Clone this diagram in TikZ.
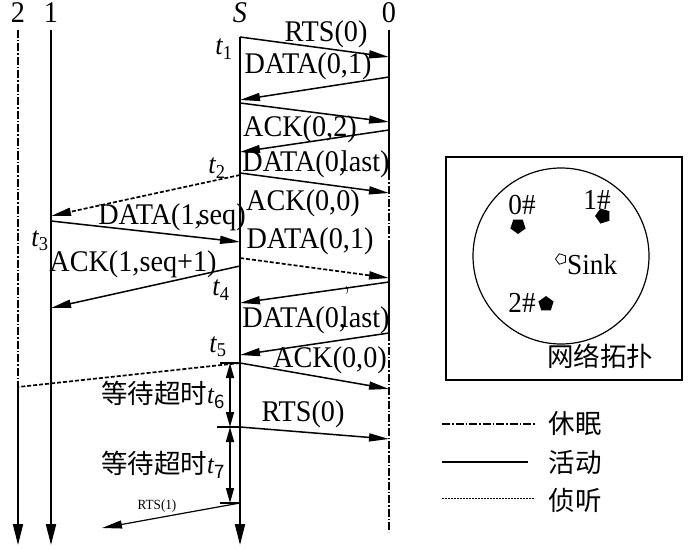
\documentclass[tikz,border=0pt]{standalone}
\usepackage{fontspec}
\setmainfont[FakeStretch=0.94]{Liberation Serif}
\newfontfamily\cjk{Noto Sans CJK SC}
\usetikzlibrary{arrows.meta}
\usetikzlibrary{shapes.geometric}

\newcommand{\tsub}[1]{{\rmfamily\itshape t}\textsubscript{#1}}

\begin{document}
\begin{tikzpicture}[x=1pt, y=-1pt,
  lab/.style={font=\fontsize{30}{32}\selectfont, inner sep=0pt},
  tlab/.style={font=\fontsize{28}{30}\selectfont, inner sep=0pt},
  cn/.style={font=\cjk\fontsize{26.5}{28}\selectfont, inner sep=0pt},
  life/.style={line width=2pt, -{Triangle[length=21pt,width=10pt]}},
  msg/.style={line width=1.5pt, -{Triangle[length=20pt,width=8pt]}},
  listen/.style={msg, line width=1.7pt, dash pattern=on 4pt off 2pt},
  sleep/.style={line width=1.3pt, dash pattern=on 8pt off 2pt on 1.5pt off 2pt},
  waitarr/.style={line width=1.5pt, {Triangle[length=15pt,width=8pt]}-{Triangle[length=15pt,width=8pt]}},
  nodemark/.style={regular polygon, regular polygon sides=5, minimum size=16pt, inner sep=0pt, fill=black}]

\useasboundingbox (0,0) rectangle (700,548);

% node names on top
\node[lab] (n2) at (18,13) {2};
\node[lab] (n1) at (51,13) {1};
\node[lab] (nS) at (240,13) {\textit{S}};
\node[lab] (n0) at (389,13) {0};

% life lines
\draw[sleep] (n2 |- 0,30) -- (n2 |- 0,387);
\draw[life] (n2 |- 0,387) -- (n2 |- 0,545);
\draw[life] (n1 |- 0,30) -- (n1 |- 0,545);
\draw[life] (nS |- 0,37) -- (nS |- 0,545);
\draw[line width=2pt] (n0 |- 0,30) -- (n0 |- 0,172);
\draw[sleep] (n0 |- 0,172) -- (n0 |- 0,245);
\draw[line width=2pt] (n0 |- 0,245) -- (n0 |- 0,333);
\draw[sleep] (n0 |- 0,333) -- (n0 |- 0,532);

% messages
\draw[msg] (nS |- 0,37) -- (n0 |- 0,57);
\draw[msg] (n0 |- 0,77) -- (nS |- 0,100);
\draw[msg] (nS |- 0,103) -- (n0 |- 0,122);
\draw[msg] (n0 |- 0,130) -- (nS |- 0,152);
\draw[msg] (nS |- 0,173) -- (n0 |- 0,193);
\draw[listen] (nS |- 0,175) -- (n1 |- 0,216);
\draw[msg] (n1 |- 0,221) -- (nS |- 0,242);
\draw[listen] (nS |- 0,258) -- (n0 |- 0,278);
\draw[msg] (nS |- 0,266) -- (n1 |- 0,308);
\draw[msg] (n0 |- 0,282) -- (nS |- 0,303);
\draw[msg] (n0 |- 0,333) -- (nS |- 0,355);
\draw[msg] (nS |- 0,363) -- (n0 |- 0,389);
\draw[line width=1.7pt, dash pattern=on 4pt off 2pt] (nS |- 0,363) -- (n2 |- 0,387);
\draw[msg] (nS |- 0,427) -- (n0 |- 0,439);
\coordinate (r1) at (102,528);
\draw[msg, line width=1.2pt] (nS |- 0,503) -- (r1);

% waiting times
\coordinate (w0) at (230,363);
\coordinate (w1) at (230,427);
\coordinate (w2) at (230,503);
\draw[line width=1.5pt] (220,363) -- (nS |- w0);
\draw[line width=1.5pt] (217,427) -- (nS |- w1);
\draw[line width=1.5pt] (220,503) -- (nS |- w2);
\draw[waitarr] (w0) -- (w1);
\draw[waitarr] (w1) -- (w2);

% labels
\node[lab] (l1) at (326,34) {RTS(0)};
\node[lab] (l2) at (308,66) {DATA(0,1)};
\node[lab] (l3) at (300,129) {ACK(0,2)};
\node[lab] (l4) at (316,164) {DATA(0,\kern-5pt last)};
\node[lab] (l5) at (303,203) {ACK(0,0)};
\node[lab] (l6) at (172,217) {DATA(1,\kern-3pt seq)};
\node[lab] (l7) at (310,241) {DATA(0,1)};
\node[lab] (l8) at (133,264) {ACK(1,seq+1)};
\node[lab] (l9) at (316,320) {DATA(0,\kern-5pt last)};
\node[lab] (l10) at (330,360) {ACK(0,0)};
\node[lab] (l11) at (303,414) {RTS(0)};
\node[font=\fontsize{14}{15}\selectfont, inner sep=0pt] (l12) at (157,506) {RTS(1)};
\node[font=\fontsize{9}{10}\selectfont, inner sep=0pt] (l13) at (347,290) {)};

\node[tlab] (t1) at (224,49) {\tsub{1}};
\node[tlab] (t2) at (217,168) {\tsub{2}};
\node[tlab] (t3) at (40,241) {\tsub{3}};
\node[tlab] (t4) at (221,290) {\tsub{4}};
\node[tlab] (t5) at (218,347) {\tsub{5}};
\node[cn] (t6) at (163,395) {等待超时\tsub{6}};
\node[cn] (t7) at (163,465) {等待超时\tsub{7}};

% topology
\draw[line width=1.2pt] (446,157) rectangle (682,380);
\draw[line width=1.2pt] (561,256) circle (88pt);
\node[nodemark, shape border rotate=180] (m0) at (518,226) {};
\node[nodemark, shape border rotate=90] (m1) at (603,216) {};
\node[nodemark] (m2) at (546,304) {};
\node[nodemark, fill=none, draw, line width=0.8pt, minimum size=11pt, shape border rotate=90] (sink) at (561,259) {};
\node[lab, font=\fontsize{29}{31}\selectfont] (k0) at (522,205) {0\#};
\node[lab, font=\fontsize{29}{31}\selectfont] (k1) at (597,200) {1\#};
\node[lab, font=\fontsize{29}{31}\selectfont] (k2) at (522,303) {2\#};
\node[lab, font=\fontsize{29}{31}\selectfont, anchor=west] (ks) at (567,265) {Sink};
\node[cn] (topo) at (600,356) {网络拓扑};

% legend
\draw[sleep] (442,424) -- (535,424);
\node[cn] (g1) at (575,424) {休眠};
\draw[line width=2pt] (442,462) -- (528,462);
\node[cn] (g2) at (575,462) {活动};
\draw[line width=1pt, dash pattern=on 2pt off 1pt] (442,498) -- (535,498);
\node[cn] (g3) at (575,500) {侦听};

\end{tikzpicture}
\end{document}
